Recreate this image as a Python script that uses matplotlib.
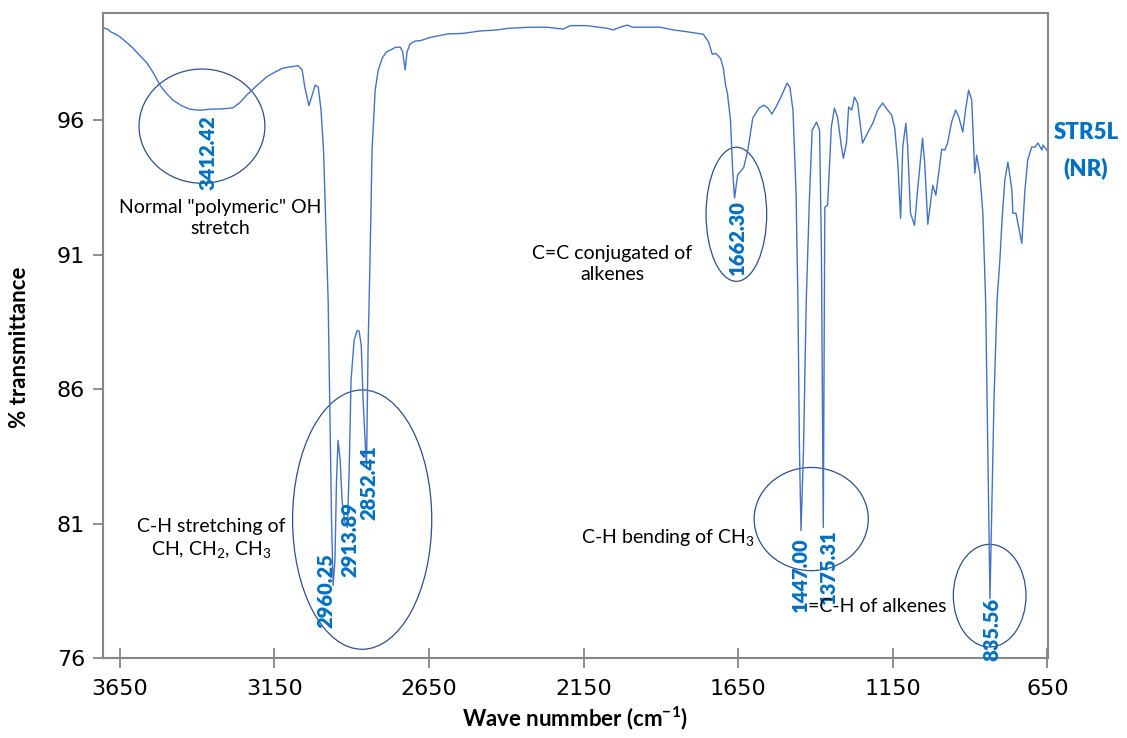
import numpy as np
import matplotlib.pyplot as plt
from matplotlib.patches import Ellipse

# spectrum (wavenumber cm-1, % transmittance)
wavenumber = [3703, 3690, 3679, 3665, 3650, 3630, 3608, 3585, 3562, 3540, 3520, 3500, 3478, 3450, 3423, 3390, 3358, 3320, 3284, 3260,
              3239, 3205, 3174, 3145, 3122, 3095, 3073, 3060, 3051, 3038, 3018, 3008, 2999,
              2991, 2983, 2976, 2970, 2965, 2960, 2954, 2949, 2944, 2937,
              2931, 2923, 2914, 2908, 2902, 2892, 2882, 2876, 2869, 2863,
              2852, 2847, 2840, 2834, 2824, 2814, 2801, 2788, 2775, 2759,
              2743, 2735, 2727, 2721, 2711, 2694, 2678, 2646, 2591, 2540,
              2485, 2430, 2394, 2323, 2268, 2216, 2193, 2139, 2074, 2054,
              2032, 2009, 1990, 1945, 1903, 1860, 1815, 1763, 1746, 1734,
              1723, 1707, 1698, 1691, 1685, 1675, 1668, 1662, 1652, 1632,
              1619, 1603, 1583, 1567, 1554, 1541, 1528, 1512, 1492, 1483,
              1473, 1463, 1457, 1452, 1447, 1439, 1430, 1420, 1411, 1397,
              1387, 1381, 1375, 1370, 1361, 1349, 1339, 1329, 1316, 1310,
              1300, 1293, 1283, 1274, 1264, 1248, 1232, 1215, 1199, 1183,
              1167, 1154, 1144, 1134, 1125, 1118, 1108, 1102, 1093, 1080,
              1070, 1054, 1047, 1037, 1021, 1011, 992, 982, 973, 960,
              947, 937, 924, 915, 905, 895, 885, 879, 869, 859,
              850, 843, 836, 823, 813, 804, 797, 788, 778, 765,
              762, 752, 733, 723, 714, 701, 691, 681, 668, 665, 652]
transmittance = [99.45, 99.40, 99.30, 99.22, 99.12, 98.93, 98.70, 98.42, 98.14, 97.75, 97.32, 97.02, 96.76, 96.55, 96.42, 96.38, 96.42, 96.43, 96.47, 96.68,
                 96.95, 97.32, 97.63, 97.82, 97.95, 98.00, 98.04, 97.88, 97.21, 96.55, 97.32, 97.24, 96.39,
                 94.90, 91.92, 89.31, 84.84, 81.12, 78.70, 79.63, 82.61, 84.10, 83.35,
                 81.86, 81.12, 80.86, 82.98, 86.33, 87.82, 88.19, 88.16, 87.64, 85.59,
                 83.09, 87.45, 91.17, 94.90, 97.13, 97.88, 98.32, 98.55, 98.62, 98.72,
                 98.73, 98.55, 97.88, 98.55, 98.85, 98.96, 98.97, 99.09, 99.22, 99.24,
                 99.33, 99.37, 99.43, 99.47, 99.47, 99.40, 99.53, 99.53, 99.43, 99.37,
                 99.47, 99.55, 99.47, 99.47, 99.47, 99.37, 99.30, 99.21, 98.93, 98.46,
                 98.50, 98.31, 97.94, 97.32, 97.02, 96.01, 94.15, 93.11, 93.97, 94.26,
                 94.90, 96.09, 96.46, 96.57, 96.46, 96.24, 96.50, 96.87, 97.39, 97.24,
                 96.39, 93.30, 89.31, 83.72, 80.74, 83.72, 89.31, 93.04, 95.64, 95.94,
                 95.64, 91.17, 80.86, 92.77, 92.85, 95.75, 96.46, 96.13, 95.01, 94.60,
                 95.16, 96.50, 96.39, 96.87, 96.65, 95.16, 95.53, 95.90, 96.39, 96.65,
                 96.39, 96.20, 95.72, 94.41, 92.36, 95.01, 95.90, 95.01, 92.55, 92.10,
                 93.41, 95.34, 94.41, 92.14, 93.59, 93.22, 94.93, 94.90, 95.16, 95.94,
                 96.39, 96.13, 95.57, 96.39, 97.13, 96.76, 94.04, 94.71, 94.04, 92.55,
                 89.31, 83.72, 78.21, 85.59, 89.31, 90.80, 92.29, 93.78, 94.45, 93.41,
                 92.55, 92.55, 91.43, 93.41, 94.53, 95.01, 95.01, 95.16, 94.90, 95.08, 94.90]

peak_text = ['3412.42', '2960.25', '2913.89', '2852.41', '1662.30', '1447.00', '1375.31', '835.56']
peak_x = [3366, 2984, 2905, 2844, 1652, 1448, 1359, 829]
peak_top = [96.2, 79.9, 81.8, 83.9, 93.05, 80.5, 80.8, 78.25]

# highlight ellipses: centre x, centre y, width, height (data units)
ell_x = [3384, 2866, 1656, 1414, 837]
ell_y = [95.79, 81.15, 92.51, 81.17, 78.32]
ell_w = [407, 450, 196, 369, 235]
ell_h = [4.25, 9.65, 4.99, 3.84, 3.82]

notes = ['Normal "polymeric" OH\nstretch',
         'C-H stretching of\nCH, CH$_2$, CH$_3$',
         'C=C conjugated of\nalkenes',
         'C-H bending of CH$_3$',
         '=C-H of alkenes']
note_x = [3325, 3355, 2058, 1877, 1199]
note_y = [92.38, 80.41, 90.65, 80.45, 77.91]

plt.rcParams['font.family'] = ['Lato', 'DejaVu Sans']
plt.rcParams['mathtext.fontset'] = 'custom'
plt.rcParams['mathtext.rm'] = 'Lato'
plt.rcParams['mathtext.bf'] = 'Lato:bold'

fig = plt.figure(figsize=(11.27, 7.38), dpi=100)
ax = fig.add_axes([0.0914, 0.1084, 0.8386, 0.874])

ax.plot(wavenumber, transmittance, color='#4472C4', lw=1.0)
ax.set_xlim(3704, 648)
ax.set_ylim(76, 100)
ax.set_xticks([3650, 3150, 2650, 2150, 1650, 1150, 650])
ax.set_yticks([76, 81, 86, 91, 96])

for s in ax.spines.values():
    s.set_color('#878787')
    s.set_linewidth(1.5)
ax.tick_params(axis='x', direction='inout', length=14, width=1.3, color='#878787', pad=8)
ax.tick_params(axis='y', direction='out', length=7, width=1.3, color='#878787', pad=6)
for lab in ax.get_xticklabels() + ax.get_yticklabels():
    lab.set_family(['Liberation Sans Narrow', 'DejaVu Sans'])
    lab.set_fontsize(16)

for x, y, w, h in zip(ell_x, ell_y, ell_w, ell_h):
    ax.add_patch(Ellipse((x, y), w, h, fill=False, ec='#2F4F8A', lw=0.9))

for t, x, y in zip(peak_text, peak_x, peak_top):
    ax.text(x, y, t, rotation=90, ha='center', va='top', color='#0070C0',
            fontsize=14.5, fontweight='heavy', clip_on=False)

for t, x, y in zip(notes, note_x, note_y):
    ax.text(x, y, t, ha='center', va='center', fontsize=14, color='black',
            linespacing=1.3)

fig.text(0.9636, 0.8205, 'STR5L', ha='center', va='center', color='#0070C0',
         fontsize=16, fontweight='heavy')
fig.text(0.9636, 0.7717, '(NR)', ha='center', va='center', color='#0070C0',
         fontsize=16, fontweight='heavy')

fig.text(0.0177, 0.53, '% transmittance', rotation=90, ha='center', va='center',
         fontsize=16, fontweight='bold')
fig.text(0.51, 0.027, r'Wave nummber (cm$^{\mathbf{-1}}$)', ha='center', va='center',
         fontsize=16, fontweight='bold')

fig.savefig('out.png', dpi=100)
